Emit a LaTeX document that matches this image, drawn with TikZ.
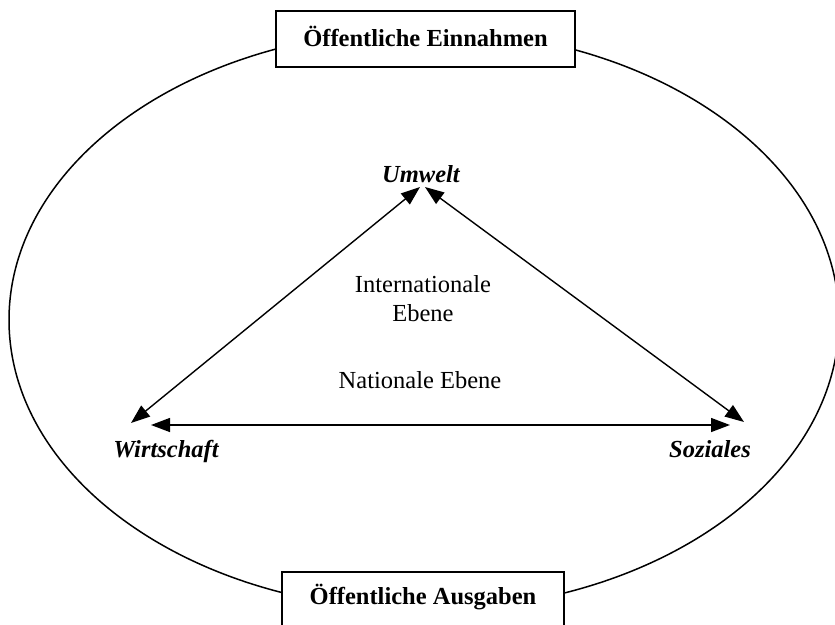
\documentclass[tikz,border=0pt]{standalone}
\usepackage{fontspec}
\setmainfont{Liberation Serif}
\usetikzlibrary{arrows.meta}
\tikzset{
  lbl/.style={font=\fontsize{24.5}{29}\selectfont, align=center, inner sep=0pt, anchor=base},
  blbl/.style={lbl, font=\fontsize{24.5}{29}\selectfont\bfseries},
  ilbl/.style={lbl, font=\fontsize{24.5}{29}\selectfont\bfseries\itshape},
  topbox/.style={draw, line width=1.5pt, fill=white},
  pfeil/.style={line width=1.4pt, {Triangle[length=19pt,width=14pt]}-{Triangle[length=19pt,width=14pt]}}
}

\begin{document}
\begin{tikzpicture}[x=1pt,y=-1pt]
			%%%%% START %%%%%
			\def\cx{424}
			\def\cy{320}
			\def\ra{415}
			\def\rb{290}
			
			\useasboundingbox (0,0) rectangle (835,624);
			\clip (0,0) rectangle (835,624);
			
			\draw[line width=1.5pt] (\cx,\cy) ellipse [x radius=\ra, y radius=\rb];
			
			\draw[topbox] (276,11) rectangle (575,67);
			\node[blbl] (einnahmen) at (425.5,46) {Öffentliche Einnahmen};
			\draw[topbox] (282,572) rectangle (564,628);
			\node[blbl] (ausgaben) at (423,604) {Öffentliche Ausgaben};
			
			\node[ilbl] (umwelt) at (421,182) {Umwelt};
			\node[ilbl] (wirtschaft) at (166,457) {Wirtschaft};
			\node[ilbl] (soziales) at (710,457) {Soziales};
			
			\node[lbl] (international) at (423,292) {Internationale};
			\node[lbl] (intebene) at (423,321) {Ebene};
			\node[lbl] (national) at (420,388) {Nationale Ebene};
			
			\coordinate (uL) at (420,187);
			\coordinate (uR) at (425,187);
			\coordinate (wD) at (131,423);
			\coordinate (wH) at (151,425);
			\coordinate (sH) at (730,425);
			\coordinate (sD) at (744,422);
			
			\draw[pfeil] (wD) -- (uL);
			\draw[pfeil] (uR) -- (sD);
			\draw[pfeil] (wH) -- (sH);
			%%%%% END %%%%%
\end{tikzpicture}
\end{document}
